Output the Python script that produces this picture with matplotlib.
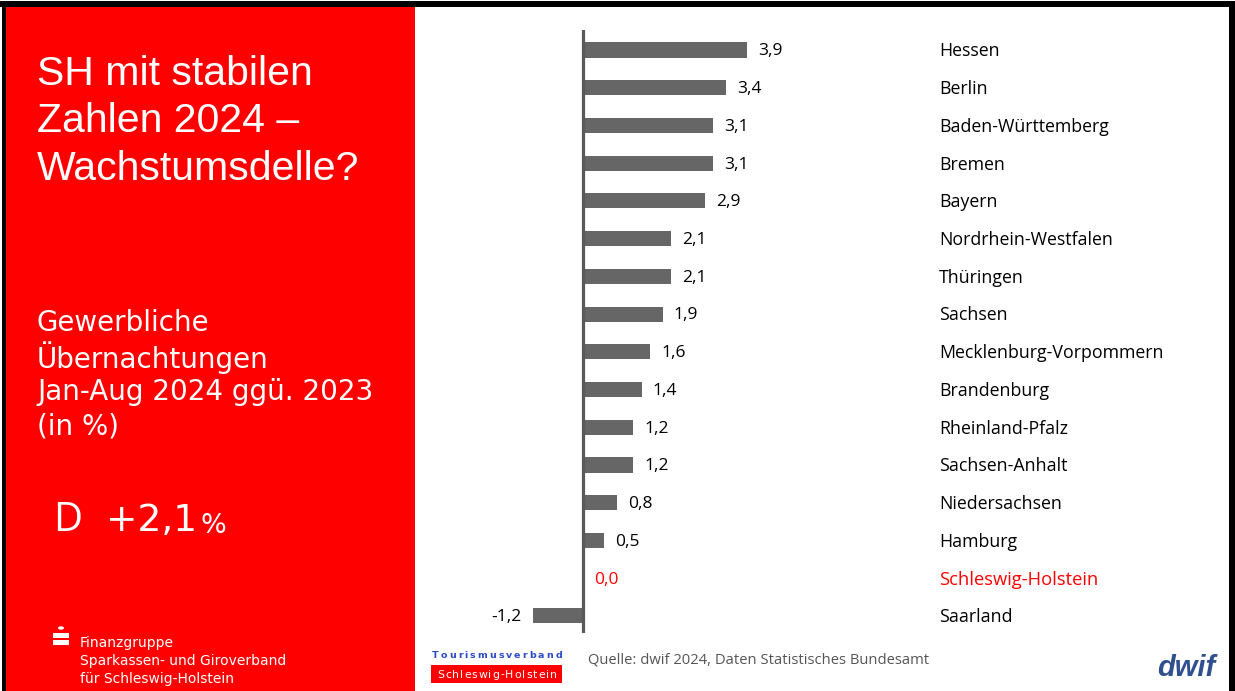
import matplotlib
matplotlib.use("Agg")
import matplotlib.pyplot as plt
from matplotlib.patches import Rectangle
import matplotlib.transforms as mtransforms

# ---------------- data ----------------
states = ["Hessen", "Berlin", "Baden-Württemberg", "Bremen", "Bayern",
          "Nordrhein-Westfalen", "Thüringen", "Sachsen",
          "Mecklenburg-Vorpommern", "Brandenburg", "Rheinland-Pfalz",
          "Sachsen-Anhalt", "Niedersachsen", "Hamburg",
          "Schleswig-Holstein", "Saarland"]
values = [3.9, 3.4, 3.1, 3.1, 2.9, 2.1, 2.1, 1.9, 1.6, 1.4, 1.2, 1.2, 0.8, 0.5, 0.0, -1.2]
highlight = "Schleswig-Holstein"

title_lines = ["SH mit stabilen", "Zahlen 2024 –", "Wachstumsdelle?"]
subtitle_lines = ["Gewerbliche", "Übernachtungen", "Jan-Aug 2024 ggü. 2023", "(in %)"]
germany_code = "D"
germany_value = "+2,1"
footer_lines = ["Finanzgruppe", "Sparkassen- und Giroverband", "für Schleswig-Holstein"]
source = "Quelle: dwif 2024, Daten Statistisches Bundesamt"
logo_top = "Tourismusverband"
logo_bottom = "Schleswig-Holstein"

W, H = 1235, 691
fig = plt.figure(figsize=(W / 100, H / 100), dpi=100)
fig.patch.set_facecolor("white")

def fx(px):
    return px / W

def fy(py):
    return 1 - py / H

RED = "#FF0000"
BAR = "#666666"
AXC = "#595959"

# red side panel
fig.patches.append(Rectangle((fx(5), 0), fx(415) - fx(5), fy(6), transform=fig.transFigure,
                             facecolor=RED, edgecolor="none", zorder=0))
# black frame (top, left, right)
fig.patches.append(Rectangle((0, fy(7)), 1, fy(1) - fy(7), transform=fig.transFigure,
                             facecolor="black", edgecolor="none", zorder=1))
fig.patches.append(Rectangle((fx(2), 0), fx(6) - fx(2), fy(1), transform=fig.transFigure,
                             facecolor="black", edgecolor="none", zorder=1))
fig.patches.append(Rectangle((fx(1229), 0), fx(1235) - fx(1229), fy(1), transform=fig.transFigure,
                             facecolor="black", edgecolor="none", zorder=1))

# ---------------- bar chart ----------------
ax_l, ax_r = 420, 1225
ax_t, ax_b = 30, 633
ax = fig.add_axes([fx(ax_l), fy(ax_b), fx(ax_r) - fx(ax_l), fy(ax_t) - fy(ax_b)])
ax.set_facecolor("none")
zero_px, px_per_unit = 583, 42.0
ax.set_xlim((ax_l - zero_px) / px_per_unit, (ax_r - zero_px) / px_per_unit)
row0, step = 50, 37.73
ax.set_ylim((ax_b - row0) / step, (ax_t - row0) / step)

ypos = list(range(len(states)))
ax.barh(ypos, values, height=0.4, color=BAR, zorder=2)
ax.axvline(0, color=AXC, lw=2.3, zorder=3)
for s in ax.spines.values():
    s.set_visible(False)
ax.set_xticks([])
ax.set_yticks([])

lab_tr = mtransforms.blended_transform_factory(ax.transAxes, ax.transData)
label_x = (939 - ax_l) / (ax_r - ax_l)
for y, st, v in zip(ypos, states, values):
    col = RED if st == highlight else "black"
    txt = f"{v:.1f}".replace(".", ",")
    if v < 0:
        ax.annotate(txt, (v, y), xytext=(-8, -1), textcoords="offset points",
                    ha="right", va="center", fontsize=12.5, color=col, family="Open Sans")
    else:
        ax.annotate(txt, (v, y), xytext=(8, -1), textcoords="offset points",
                    ha="left", va="center", fontsize=12.5, color=col, family="Open Sans")
    ax.annotate(st, (label_x, y), xycoords=lab_tr, xytext=(0, -1), textcoords="offset points",
                ha="left", va="center", fontsize=13.2 if st == highlight else 12.8,
                color=col, family="Open Sans")

# ---------------- left panel text ----------------
for i, line in enumerate(title_lines):
    fig.text(fx(37), fy(74 + i * 47.5), line, ha="left", va="center", color="white",
             fontsize=29.5, family="Liberation Sans")
for i, line in enumerate(subtitle_lines):
    fig.text(fx(37), fy(323 + i * 34.5), line, ha="left", va="center", color="white",
             fontsize=20, family="DejaVu Sans")
fig.text(fx(53), fy(521), germany_code, ha="left", va="center", color="white",
         fontsize=29, family="Open Sans")
t = fig.text(fx(106), fy(521), germany_value, ha="left", va="center", color="white",
             fontsize=27, family="DejaVu Sans")
fig.canvas.draw()
renderer = fig.canvas.get_renderer()
bb = t.get_window_extent(renderer)
fig.text(bb.x1 / W + fx(3), fy(526), "%", ha="left", va="center", color="white",
         fontsize=19.5, family="DejaVu Sans")

# Sparkassen logo + footer
fig.patches.append(Rectangle((fx(53), fy(645)), fx(16), fy(633) - fy(645), transform=fig.transFigure,
                             facecolor="white", edgecolor="none", zorder=2))
fig.patches.append(Rectangle((fx(53), fy(639.5)), fx(16), fy(638) - fy(639.5), transform=fig.transFigure,
                             facecolor=RED, edgecolor="none", zorder=3))
fig.patches.append(plt.Circle((fx(61), fy(628)), 3 / W, transform=fig.transFigure,
                              facecolor="white", edgecolor="none", zorder=3))
for i, line in enumerate(footer_lines):
    fig.text(fx(80), fy(643 + i * 18), line, ha="left", va="center", color="white",
             fontsize=10, family="DejaVu Sans")


def tracked_text(s, x0, x1, ypx, **kw):
    """Draw string s letter by letter, spread between pixel x0 and x1."""
    arts = [fig.text(0, fy(ypx), ch, ha="left", va="center", **kw) for ch in s]
    widths = [a.get_window_extent(renderer).width for a in arts]
    track = ((x1 - x0) - sum(widths)) / (len(s) - 1)
    x = x0
    for a, w in zip(arts, widths):
        a.set_x(fx(x))
        x += w + track


# Tourismusverband logo (letter-spaced)
tracked_text(logo_top, 432, 562, 655, color="#2B4BC8", fontsize=6.8,
             family="DejaVu Sans", fontweight="bold")
fig.patches.append(Rectangle((fx(431), fy(683)), fx(562) - fx(431), fy(665) - fy(683),
                             transform=fig.transFigure, facecolor=RED, edgecolor="none"))
tracked_text(logo_bottom, 437, 557, 674.5, color="white", fontsize=7.8,
             family="DejaVu Sans")

fig.text(fx(588), fy(660), source, ha="left", va="center", color="#555555",
         fontsize=10.6, family="Open Sans")
fig.text(fx(1215), fy(668), "dwif", ha="right", va="center", color="#2F4F8F",
         fontsize=21, family="Liberation Sans", fontweight="bold", style="italic")

fig.savefig("out.png", dpi=100)
